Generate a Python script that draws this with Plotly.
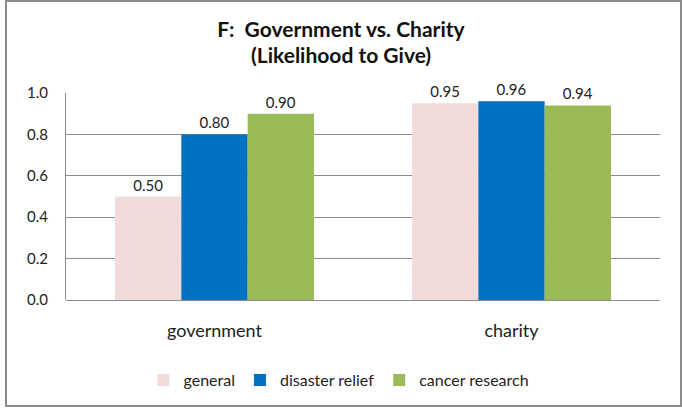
import plotly.graph_objects as go

categories = ["government", "charity"]
series_names = ["general", "disaster relief", "cancer research"]
general = [0.50, 0.95]
disaster_relief = [0.80, 0.96]
cancer_research = [0.90, 0.94]
colors = ["#F2DCDB", "#0070C0", "#9BBB59"]
y_ticks = [0.0, 0.2, 0.4, 0.6, 0.8, 1.0]
title_lines = ["F:  Government vs. Charity", "(Likelihood to Give)"]

FONT = "Lato, Calibri, Carlito, sans-serif"
PLOT_W = 594  # plot area width in px
PLOT_H = 207  # plot area height in px, used to place paper-referenced items

fig = go.Figure()
for name, vals, col in zip(series_names, [general, disaster_relief, cancer_research], colors):
    fig.add_trace(go.Bar(
        x=categories, y=vals, name=name,
        marker=dict(color=col, line=dict(width=0)),
        text=[f"{v:.2f}" for v in vals],
        textposition="outside",
        textfont=dict(size=15, color="#222", family=FONT),
        cliponaxis=False,
    ))

fig.update_layout(
    width=682, height=410,
    margin=dict(l=66, r=22, t=93, b=110),
    paper_bgcolor="white", plot_bgcolor="white",
    barmode="group", bargap=0.33, bargroupgap=0,
    font=dict(family=FONT, color="#222"),
    title=dict(
        text=title_lines[0],
        x=0.5, xanchor="center", y=1 - 30 / 410, yanchor="middle",
        font=dict(size=21, family=FONT, color="#111", weight="bold"),
    ),
    annotations=[dict(
        text=title_lines[1], xref="paper", yref="paper",
        x=(341 - 66) / PLOT_W, y=(300 - 54) / PLOT_H, xanchor="center", yanchor="middle",
        showarrow=False, font=dict(size=21, family=FONT, color="#111", weight="bold"),
    )],
    xaxis=dict(
        showgrid=False, showline=False, ticks="", automargin=False,
        ticklabelstandoff=18,
        tickfont=dict(size=18, family=FONT, color="#222"),
    ),
    yaxis=dict(
        range=[0, 1.0], tickvals=y_ticks, ticktext=[f"{t:.1f}" for t in y_ticks],
        showgrid=True, gridcolor="#8C8C8C", gridwidth=1,
        showline=True, linecolor="#8C8C8C", linewidth=1,
        zeroline=True, zerolinecolor="#8C8C8C", zerolinewidth=1,
        ticks="", ticklabelstandoff=14, automargin=False,
        tickfont=dict(size=15, family=FONT, color="#222"),
    ),
    legend=dict(
        orientation="h", x=(341 - 66 - 2) / PLOT_W, xanchor="center",
        y=(300 - 380) / PLOT_H, yanchor="middle",
        font=dict(size=16, family=FONT, color="#222"),
        itemwidth=30, traceorder="normal",
    ),
    shapes=[dict(
        type="rect", xref="paper", yref="paper",
        x0=-60 / PLOT_W, x1=615 / PLOT_W, y0=-106 / PLOT_H, y1=299 / PLOT_H,
        line=dict(color="#8C8C8C", width=2), layer="below",
    )],
)

fig.write_html("out.html")
